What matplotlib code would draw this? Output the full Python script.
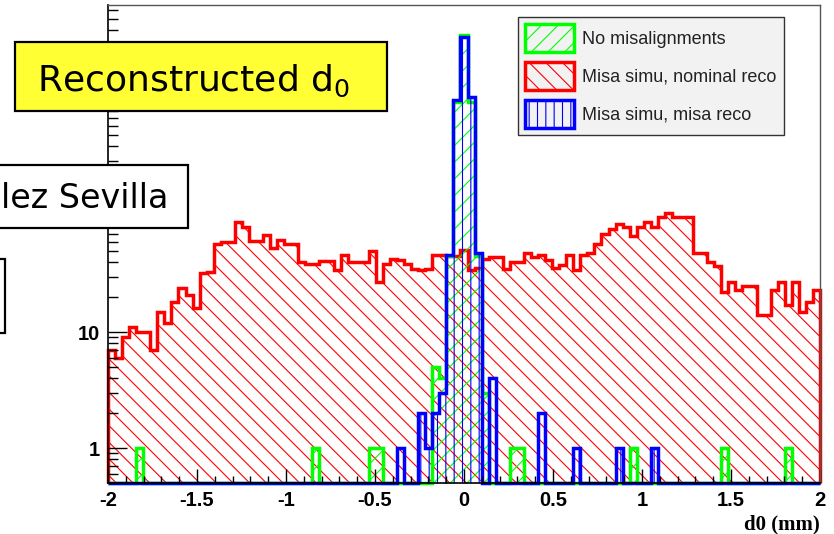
import matplotlib
matplotlib.use('Agg')
import matplotlib.pyplot as plt
import matplotlib.ticker as mticker
from matplotlib.patches import Rectangle
import numpy as np

# d0 histograms: 101 bins between -2 and 2 mm
d0_min = -2.0
d0_max = 2.0
n_bins = 101

# misaligned simulation, nominal reconstruction
misa_nominal = [7, 6, 9, 11, 10, 10, 7, 15, 12, 18,
                24, 21, 16, 32, 33, 57, 60, 60, 89, 80,
                61, 61, 69, 53, 62, 58, 58, 40, 39, 39,
                41, 41, 34, 46, 40, 40, 40, 50, 27, 39,
                43, 42, 39, 35, 34, 35, 46, 46, 45, 45,
                51, 34, 36, 43, 44, 44, 35, 40, 40, 48,
                44, 46, 42, 36, 38, 46, 34, 46, 48, 57,
                70, 77, 85, 80, 68, 80, 89, 80, 98, 106,
                98, 98, 98, 48, 48, 40, 37, 22, 27, 23,
                25, 25, 14, 14, 23, 27, 17, 27, 15, 18,
                23]

# no misalignments
no_misa = [0, 0, 0, 0, 1, 0, 0, 0, 0, 0,
           0, 0, 0, 0, 0, 0, 0, 0, 0, 0,
           0, 0, 0, 0, 0, 0, 0, 0, 0, 1,
           0, 0, 0, 0, 0, 0, 0, 1, 1, 0,
           0, 0, 0, 0, 0, 0, 5, 4, 45, 960,
           3650, 960, 45, 3, 0, 0, 0, 1, 1, 0,
           0, 0, 0, 0, 0, 0, 0, 0, 0, 0,
           0, 0, 0, 0, 1, 0, 0, 0, 0, 0,
           0, 0, 0, 0, 0, 0, 0, 1, 0, 0,
           0, 0, 0, 0, 0, 0, 1, 0, 0, 0,
           0]

# misaligned simulation, misaligned reconstruction
misa_misa = [0, 0, 0, 0, 0, 0, 0, 0, 0, 0,
             0, 0, 0, 0, 0, 0, 0, 0, 0, 0,
             0, 0, 0, 0, 0, 0, 0, 0, 0, 0,
             0, 0, 0, 0, 0, 0, 0, 0, 0, 0,
             0, 1, 0, 0, 2, 1, 2, 3, 46, 1000,
             3500, 1060, 48, 0, 4, 0, 0, 0, 0, 0,
             0, 2, 0, 0, 0, 0, 1, 0, 0, 0,
             0, 0, 1, 0, 0, 0, 0, 1, 0, 0,
             0, 0, 0, 0, 0, 0, 0, 0, 0, 0,
             0, 0, 0, 0, 0, 0, 0, 0, 0, 0,
             0]

labels = ['No misalignments', 'Misa simu, nominal reco', 'Misa simu, misa reco']

ymin = 0.5
ymax = 6600

plt.rcParams['font.family'] = ['Liberation Sans', 'DejaVu Sans']
plt.rcParams['hatch.linewidth'] = 0.8
plt.rcParams['mathtext.default'] = 'regular'

fig = plt.figure(figsize=(8.34, 5.34), dpi=100)
ax = fig.add_axes([108/834, 51/534, 712/834, 478/534])

edges = np.linspace(d0_min, d0_max, n_bins + 1)

def draw_hist(counts, color, hatch, label):
    # empty bins sit on the bottom of the frame like in ROOT
    vals = np.array(counts, dtype=float)
    vals = np.where(vals > 0, vals, ymin)
    return ax.stairs(vals, edges, baseline=ymin, fill=True, facecolor='none',
                     edgecolor=color, hatch=hatch, linewidth=2.5, label=label,
                     clip_on=False)

h_red = draw_hist(misa_nominal, '#ff0000', '\\\\', labels[1])
h_green = draw_hist(no_misa, '#00ff00', '//', labels[0])
h_blue = draw_hist(misa_misa, '#0000ff', '||', labels[2])

ax.set_yscale('log')
ax.set_xlim(d0_min, d0_max)
ax.set_ylim(ymin, ymax)

def ylab(v, p):
    # labels above 10 are covered by the slide boxes
    return f'{v:g}' if v < 50 else ''

ax.xaxis.set_major_locator(mticker.MultipleLocator(0.5))
ax.xaxis.set_minor_locator(mticker.MultipleLocator(0.1))
ax.xaxis.set_major_formatter(mticker.FuncFormatter(lambda v, p: f'{v:g}'))
ax.yaxis.set_major_locator(mticker.LogLocator(base=10))
ax.yaxis.set_minor_locator(mticker.LogLocator(base=10, subs=np.arange(2, 10)))
ax.yaxis.set_major_formatter(mticker.FuncFormatter(ylab))
ax.yaxis.set_minor_formatter(mticker.NullFormatter())

ax.tick_params(axis='x', which='major', direction='in', length=10, width=1,
               labelsize=14.5, pad=6)
ax.tick_params(axis='x', which='minor', direction='in', length=5, width=1)
ax.tick_params(axis='y', which='major', direction='in', length=14, width=1,
               labelsize=14.5, pad=6)
ax.tick_params(axis='y', which='minor', direction='in', length=7, width=1)
for lbl in ax.get_xticklabels() + ax.get_yticklabels():
    lbl.set_fontweight('bold')

for s in ['left', 'bottom']:
    ax.spines[s].set_color('black')
    ax.spines[s].set_linewidth(1.2)
for s in ['top', 'right']:
    ax.spines[s].set_color('#555555')
    ax.spines[s].set_linewidth(1.0)

ax.set_xlabel('d0 (mm)', loc='right', fontsize=15, fontweight='bold',
              family='Liberation Serif', labelpad=3)

leg = ax.legend(handles=[h_green, h_red, h_blue], loc='upper left',
                bbox_to_anchor=(410/712, 466/478), borderaxespad=0,
                fontsize=13, handlelength=2.7, handleheight=2.0,
                handletextpad=0.45, labelspacing=0.55, borderpad=0.4,
                fancybox=False, framealpha=1, facecolor='#f2f2f2',
                edgecolor='#333333')
leg.get_frame().set_linewidth(1.0)
for t in leg.get_texts():
    t.set_color('#222222')

# slide boxes laid over the plot
W, H = 834, 534

def fig_box(x0, y0, x1, y1, fc):
    r = Rectangle((x0/W, 1 - y1/H), (x1 - x0)/W, (y1 - y0)/H,
                  transform=fig.transFigure, facecolor=fc, edgecolor='black',
                  linewidth=1.6, zorder=10)
    fig.add_artist(r)

fig_box(15, 42, 387, 111, '#ffff33')
fig.text(37/W, 1 - 91/H, 'Reconstructed d$_{0}$', fontsize=26,
         family='DejaVu Sans', ha='left', va='baseline', zorder=11)

fig_box(-10, 165, 188, 228, 'white')
fig.text(1/W, 1 - 208/H, 'lez Sevilla', fontsize=24,
         family='DejaVu Sans', ha='left', va='baseline', zorder=11)

fig_box(-30, 259, 5, 333, 'white')

fig.savefig('out.png', dpi=100)
